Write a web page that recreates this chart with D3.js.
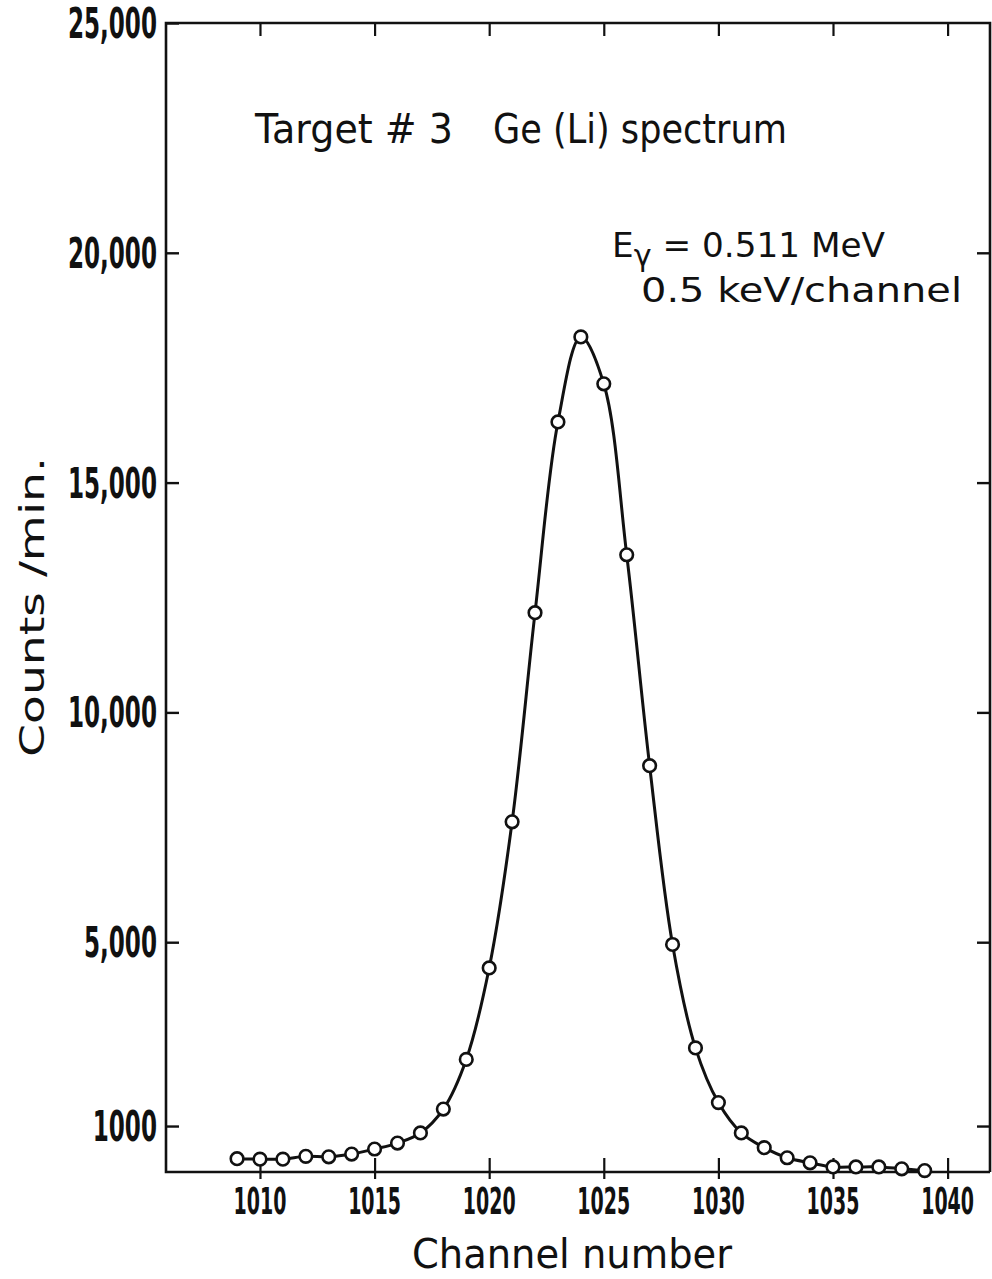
<!DOCTYPE html>
<html>
<head>
<meta charset="utf-8">
<script src="https://cdn.jsdelivr.net/npm/d3@7"></script>
<style>
  html, body { margin: 0; padding: 0; background: #fff; }
  svg { display: block; }
  text { font-family: "DejaVu Sans", sans-serif; fill: #111; white-space: pre; }
</style>
</head>
<body>
<svg id="chart" width="992" height="1279"></svg>
<script>
// Ge(Li) spectrum of the 0.511 MeV annihilation line, counts per minute by channel
const channels = [1009, 1010, 1011, 1012, 1013, 1014, 1015, 1016, 1017, 1018,
                  1019, 1020, 1021, 1022, 1023, 1024, 1025, 1026, 1027, 1028,
                  1029, 1030, 1031, 1032, 1033, 1034, 1035, 1036, 1037, 1038, 1039];
const counts = [290, 280, 280, 340, 330, 390, 500, 630, 850, 1370,
                2450, 4440, 7620, 12170, 16320, 18170, 17150, 13430, 8840, 4950,
                2700, 1510, 850, 530, 310, 200, 110, 110, 110, 70, 30];

const xTicks = [1010, 1015, 1020, 1025, 1030, 1035, 1040];
const yTicks = [1000, 5000, 10000, 15000, 20000, 25000];
const yTickLabels = ["1000", "5,000", "10,000", "15,000", "20,000", "25,000"];

const titleLeft = "Target # 3";
const titleRight = "Ge (Li) spectrum";
const xTitle = "Channel number";
const yTitle = "Counts /min.";

const svg = d3.select("#chart");
const x = d3.scaleLinear().domain([1005.9, 1041.85]).range([166, 990]);
const y = d3.scaleLinear().domain([0, 25000]).range([1172, 23]);

const ink = "#111";
const frame = svg.append("g");

// frame: left, top, right, bottom
frame.append("path")
  .attr("d", `M${x(1041.85)},${y(0)} L${x(1005.9)},${y(0)} L${x(1005.9)},${y(25000)} L${x(1041.85)},${y(25000)} L${x(1041.85)},${y(0)}`)
  .attr("fill", "none").attr("stroke", ink).attr("stroke-width", 2.6);

// left axis ticks (inward)
const yAxisL = d3.axisRight(y).tickValues(yTicks).tickSize(13).tickFormat("");
frame.append("g").attr("transform", `translate(${x(1005.9)},0)`).call(yAxisL)
  .call(g => g.select(".domain").remove())
  .call(g => g.selectAll("line").attr("stroke", ink).attr("stroke-width", 2.4));

// right axis ticks (inward)
const yAxisR = d3.axisLeft(y).tickValues(yTicks.filter(v => v < 25000)).tickSize(13).tickFormat("");
frame.append("g").attr("transform", `translate(${x(1041.85)},0)`).call(yAxisR)
  .call(g => g.select(".domain").remove())
  .call(g => g.selectAll("line").attr("stroke", ink).attr("stroke-width", 2.4));

// top ticks (inward)
const xAxisT = d3.axisBottom(x).tickValues(xTicks).tickSize(13).tickFormat("");
frame.append("g").attr("transform", `translate(0,${y(25000)})`).call(xAxisT)
  .call(g => g.select(".domain").remove())
  .call(g => g.selectAll("line").attr("stroke", ink).attr("stroke-width", 2.2));

// bottom ticks cross the axis
const xAxisB = d3.axisBottom(x).tickValues(xTicks).tickSize(0).tickFormat("");
const gB = frame.append("g").attr("transform", `translate(0,${y(0)})`).call(xAxisB);
gB.select(".domain").remove();
gB.selectAll(".tick line").attr("y1", -14).attr("y2", 7).attr("stroke", ink).attr("stroke-width", 2.2);

// condensed numeric tick labels
svg.append("g").selectAll("text").data(yTicks).join("text")
  .attr("transform", d => `translate(157,${y(d) + 15}) scale(0.55,1)`)
  .attr("text-anchor", "end")
  .attr("font-size", 42).attr("font-weight", "bold")
  .text((d, i) => yTickLabels[i]);

svg.append("g").selectAll("text").data(xTicks).join("text")
  .attr("transform", d => `translate(${x(d)},1214) scale(0.5,1)`)
  .attr("text-anchor", "middle")
  .attr("font-size", 38).attr("font-weight", "bold")
  .text(d => d);

// axis titles
svg.append("text")
  .attr("x", 412).attr("y", 1268)
  .attr("font-size", 40)
  .attr("textLength", 320).attr("lengthAdjust", "spacingAndGlyphs")
  .text(xTitle);

svg.append("text")
  .attr("transform", "translate(44,757) rotate(-90)")
  .attr("font-size", 34)
  .attr("textLength", 300).attr("lengthAdjust", "spacingAndGlyphs")
  .text(yTitle);

// annotations
svg.append("text")
  .attr("x", 255).attr("y", 143)
  .attr("font-size", 41)
  .attr("textLength", 198).attr("lengthAdjust", "spacingAndGlyphs")
  .text(titleLeft);

svg.append("text")
  .attr("x", 493).attr("y", 143)
  .attr("font-size", 41)
  .attr("textLength", 294).attr("lengthAdjust", "spacingAndGlyphs")
  .text(titleRight);

const ann = svg.append("text")
  .attr("x", 612).attr("y", 257)
  .attr("font-size", 34)
  .attr("textLength", 273).attr("lengthAdjust", "spacingAndGlyphs");
ann.append("tspan").text("E");
ann.append("tspan").attr("dy", 9).attr("font-size", 30).text("γ");
ann.append("tspan").attr("dy", -9).text(" = 0.511 MeV");

svg.append("text")
  .attr("x", 641).attr("y", 302)
  .attr("font-size", 34)
  .attr("textLength", 321).attr("lengthAdjust", "spacingAndGlyphs")
  .text("0.5 keV/channel");

// data: smooth curve plus open circles
const pts = channels.map((c, i) => [c, counts[i]]);
const line = d3.line().x(d => x(d[0])).y(d => y(d[1])).curve(d3.curveCatmullRom.alpha(0.5));

svg.append("path").datum(pts)
  .attr("d", line)
  .attr("fill", "none").attr("stroke", ink).attr("stroke-width", 3);

svg.append("g").selectAll("circle").data(pts).join("circle")
  .attr("cx", d => x(d[0])).attr("cy", d => y(d[1]))
  .attr("r", 6.3)
  .attr("fill", "#fff").attr("stroke", ink).attr("stroke-width", 2.6);
</script>
</body>
</html>
